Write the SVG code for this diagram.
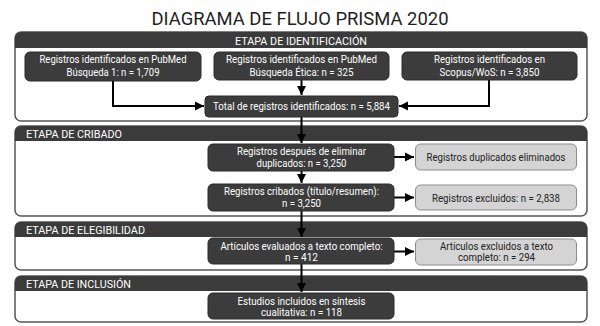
<svg xmlns="http://www.w3.org/2000/svg" width="600" height="326" viewBox="0 0 600 326">
<defs>
<marker id="ah" markerUnits="userSpaceOnUse" markerWidth="10" markerHeight="10" refX="9" refY="5" orient="auto">
<path d="M0,0.5 L9,5 L0,9.5 z" fill="#000"/>
</marker>
<style>
text{font-family:Roboto,"Liberation Sans",sans-serif;}
.sec{fill:#fff;stroke:#555;stroke-width:1.5;}
.hdr{fill:#3b3b3b;}
.ht{fill:#fff;font-size:11.5px;}
.dk{fill:#3c3c3c;stroke:#2a2a2a;stroke-width:1;}
.lt{fill:#d4d4d4;stroke:#8c8c8c;stroke-width:1;}
.wt{fill:#fff;font-size:11px;text-anchor:middle;}
.bt{fill:#222;font-size:11px;text-anchor:middle;}
.c{fill:none;stroke:#000;stroke-width:2;marker-end:url(#ah);}
</style>
</defs>
<rect width="600" height="326" fill="#fff"/>
<text x="300" y="25" font-size="19" fill="#1e1e1e" text-anchor="middle" textLength="297" lengthAdjust="spacingAndGlyphs">DIAGRAMA DE FLUJO PRISMA 2020</text>

<g id="stage-identificacion">
<rect class="sec" x="15" y="32" width="572" height="89" rx="6"/>
<path class="hdr" d="M15,48 V38 a6,6 0 0 1 6,-6 H581 a6,6 0 0 1 6,6 V48 z"/>
<text class="ht" x="301" y="44.5" text-anchor="middle" textLength="132" lengthAdjust="spacingAndGlyphs">ETAPA DE IDENTIFICACIÓN</text>
</g>
<g id="stage-cribado">
<rect class="sec" x="15" y="126" width="572" height="90" rx="6"/>
<path class="hdr" d="M15,141 V132 a6,6 0 0 1 6,-6 H581 a6,6 0 0 1 6,6 V141 z"/>
<text class="ht" x="26" y="138" textLength="96" lengthAdjust="spacingAndGlyphs">ETAPA DE CRIBADO</text>
</g>
<g id="stage-elegibilidad">
<rect class="sec" x="15" y="222" width="572" height="48" rx="6"/>
<path class="hdr" d="M15,237 V228 a6,6 0 0 1 6,-6 H581 a6,6 0 0 1 6,6 V237 z"/>
<text class="ht" x="26" y="234" textLength="119" lengthAdjust="spacingAndGlyphs">ETAPA DE ELEGIBILIDAD</text>
</g>
<g id="stage-inclusion">
<rect class="sec" x="15" y="276" width="572" height="46" rx="6"/>
<path class="hdr" d="M15,291 V282 a6,6 0 0 1 6,-6 H581 a6,6 0 0 1 6,6 V291 z"/>
<text class="ht" x="26" y="288" textLength="105" lengthAdjust="spacingAndGlyphs">ETAPA DE INCLUSIÓN</text>
</g>

<g id="connectors">
<path class="c" d="M113,81 V106 H204"/>
<path class="c" d="M489,80 V106 H399"/>
<path class="c" d="M301.5,80 V95"/>
<path class="c" d="M301.5,117 V143"/>
<path class="c" d="M301.5,171 V183"/>
<path class="c" d="M301.5,211 V237"/>
<path class="c" d="M301.5,264 V292"/>
<path class="c" d="M394,157 H414"/>
<path class="c" d="M394,197.5 H414"/>
<path class="c" d="M394,251.5 H414"/>
</g>

<g id="pubmed1">
<rect class="dk" x="25" y="52" width="176" height="29" rx="5"/>
<text class="wt" x="113" y="63" textLength="147" lengthAdjust="spacingAndGlyphs">Registros identificados en PubMed</text>
<text class="wt" x="113" y="76" textLength="93" lengthAdjust="spacingAndGlyphs">Búsqueda 1: n = 1,709</text>
</g>
<g id="pubmed-etica">
<rect class="dk" x="214" y="52" width="175" height="28" rx="5"/>
<text class="wt" x="301.5" y="63" textLength="151" lengthAdjust="spacingAndGlyphs">Registros identificados en PubMed</text>
<text class="wt" x="301.5" y="76" textLength="104" lengthAdjust="spacingAndGlyphs">Búsqueda Ética: n = 325</text>
</g>
<g id="scopus">
<rect class="dk" x="402" y="52" width="175" height="28" rx="5"/>
<text class="wt" x="489.5" y="63" textLength="111" lengthAdjust="spacingAndGlyphs">Registros identificados en</text>
<text class="wt" x="489.5" y="76" textLength="100" lengthAdjust="spacingAndGlyphs">Scopus/WoS: n = 3,850</text>
</g>
<g id="total">
<rect class="dk" x="205" y="96" width="193" height="21" rx="4"/>
<text class="wt" x="301.5" y="110" textLength="177" lengthAdjust="spacingAndGlyphs">Total de registros identificados: n = 5,884</text>
</g>
<g id="sin-duplicados">
<rect class="dk" x="208" y="144" width="186" height="27" rx="5"/>
<text class="wt" x="301.5" y="155" textLength="129" lengthAdjust="spacingAndGlyphs">Registros después de eliminar</text>
<text class="wt" x="301.5" y="167" textLength="90" lengthAdjust="spacingAndGlyphs">duplicados: n = 3,250</text>
</g>
<g id="duplicados">
<rect class="lt" x="415.5" y="144" width="161" height="26" rx="5"/>
<text class="bt" x="496" y="161" textLength="139" lengthAdjust="spacingAndGlyphs">Registros duplicados eliminados</text>
</g>
<g id="cribados">
<rect class="dk" x="208" y="184" width="186" height="27" rx="5"/>
<text class="wt" x="301.5" y="195" textLength="155" lengthAdjust="spacingAndGlyphs">Registros cribados (título/resumen):</text>
<text class="wt" x="301.5" y="207" textLength="39" lengthAdjust="spacingAndGlyphs">n = 3,250</text>
</g>
<g id="excluidos">
<rect class="lt" x="415.5" y="185" width="161" height="25" rx="5"/>
<text class="bt" x="496" y="202" textLength="128" lengthAdjust="spacingAndGlyphs">Registros excluidos: n = 2,838</text>
</g>
<g id="evaluados">
<rect class="dk" x="208" y="238" width="186" height="26" rx="5"/>
<text class="wt" x="301.5" y="249.5" textLength="162" lengthAdjust="spacingAndGlyphs">Artículos evaluados a texto completo:</text>
<text class="wt" x="301.5" y="261" textLength="33" lengthAdjust="spacingAndGlyphs">n = 412</text>
</g>
<g id="excluidos-texto">
<rect class="lt" x="415.5" y="239" width="161" height="26" rx="5"/>
<text class="bt" x="496.5" y="249.5" textLength="113" lengthAdjust="spacingAndGlyphs">Artículos excluidos a texto</text>
<text class="bt" x="496.5" y="261" textLength="77" lengthAdjust="spacingAndGlyphs">completo: n = 294</text>
</g>
<g id="incluidos">
<rect class="dk" x="208" y="293" width="186" height="26" rx="5"/>
<text class="wt" x="301.5" y="304.5" textLength="128" lengthAdjust="spacingAndGlyphs">Estudios incluidos en síntesis</text>
<text class="wt" x="301.5" y="316" textLength="81" lengthAdjust="spacingAndGlyphs">cualitativa: n = 118</text>
</g>
</svg>
